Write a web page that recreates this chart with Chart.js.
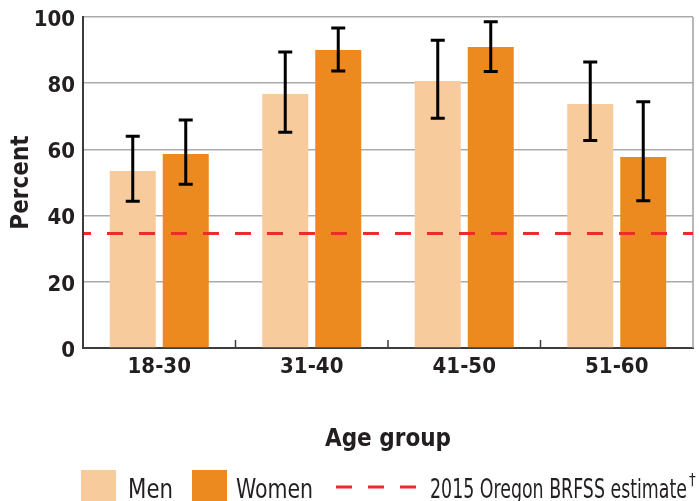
<!DOCTYPE html>
<html>
<head>
<meta charset="utf-8">
<script src="https://cdn.jsdelivr.net/npm/chart.js@4/dist/chart.umd.min.js"></script>
<style>
  html, body { margin: 0; padding: 0; background: #fff; }
  #wrap { width: 699px; height: 501px; }
</style>
</head>
<body>
<div id="wrap"><canvas id="canvas"></canvas></div>
<script>
const ageGroups = ['18-30', '31-40', '41-50', '51-60'];
const men = [53.5, 76.7, 80.7, 73.7];
const women = [58.6, 90.0, 90.9, 57.7];
const menLow = [44.3, 65.2, 69.4, 62.7];
const menHigh = [64.0, 89.4, 93.0, 86.4];
const womenLow = [49.5, 83.7, 83.5, 44.5];
const womenHigh = [68.9, 96.7, 98.6, 74.4];
const brfssEstimate = 34.6;
const legendLabels = ['Men', 'Women', '2015 Oregon BRFSS estimate'];

const FONT = "'Liberation Sans Narrow', 'DejaVu Sans Condensed', sans-serif";
const TEXT = '#231f20';
const MEN_COLOR = '#f8cb9d';
const WOMEN_COLOR = '#ec8a1f';
const RED = '#ee2b2b';

// error bars, dashed estimate line, inner ticks, right border, legend
const extras = {
  id: 'extras',
  afterDatasetsDraw(chart) {
    const { ctx, chartArea: a, scales: { x, y } } = chart;
    ctx.save();

    // right frame line
    ctx.strokeStyle = '#a0a0a0';
    ctx.lineWidth = 1.5;
    ctx.beginPath();
    ctx.moveTo(a.right, a.top);
    ctx.lineTo(a.right, a.bottom);
    ctx.stroke();

    // small ticks between groups
    ctx.strokeStyle = '#3c3c3c';
    ctx.lineWidth = 1.5;
    for (let i = 0; i < ageGroups.length - 1; i++) {
      const px = (x.getPixelForValue(i) + x.getPixelForValue(i + 1)) / 2;
      ctx.beginPath();
      ctx.moveTo(px, a.bottom);
      ctx.lineTo(px, a.bottom - 8);
      ctx.stroke();
    }

    // estimate line
    const ly = y.getPixelForValue(brfssEstimate);
    ctx.strokeStyle = RED;
    ctx.lineWidth = 3;
    ctx.setLineDash([16, 16]);
    ctx.lineDashOffset = 9;
    ctx.beginPath();
    ctx.moveTo(a.left + 1, ly);
    ctx.lineTo(a.right, ly);
    ctx.stroke();
    ctx.setLineDash([]);

    // error bars
    ctx.strokeStyle = '#000';
    ctx.lineWidth = 3;
    chart.data.datasets.forEach((ds, i) => {
      const meta = chart.getDatasetMeta(i);
      meta.data.forEach((bar, j) => {
        const yl = y.getPixelForValue(ds.errLow[j]);
        const yh = y.getPixelForValue(ds.errHigh[j]);
        ctx.beginPath();
        ctx.moveTo(bar.x, yl);
        ctx.lineTo(bar.x, yh);
        ctx.moveTo(bar.x - 7, yl);
        ctx.lineTo(bar.x + 7, yl);
        ctx.moveTo(bar.x - 7, yh);
        ctx.lineTo(bar.x + 7, yh);
        ctx.stroke();
      });
    });
    ctx.restore();
  },
  afterDraw(chart) {
    const { ctx } = chart;
    ctx.save();
    ctx.font = '27px ' + FONT;
    ctx.textBaseline = 'alphabetic';

    ctx.fillStyle = MEN_COLOR;
    ctx.fillRect(81, 470, 35, 31);
    ctx.fillStyle = TEXT;
    ctx.fillText(legendLabels[0], 128, 498, 45);

    ctx.fillStyle = WOMEN_COLOR;
    ctx.fillRect(192, 470, 35, 31);
    ctx.fillStyle = TEXT;
    ctx.fillText(legendLabels[1], 236, 498, 77);

    ctx.strokeStyle = RED;
    ctx.lineWidth = 3;
    [336, 368, 400].forEach(sx => {
      ctx.beginPath();
      ctx.moveTo(sx, 487);
      ctx.lineTo(sx + 16, 487);
      ctx.stroke();
    });

    ctx.fillStyle = TEXT;
    ctx.fillText(legendLabels[2], 430, 498, 257);
    ctx.font = '15px ' + FONT;
    ctx.fillText('\u2020', 689, 485);
    ctx.restore();
  }
};

new Chart(document.getElementById('canvas').getContext('2d'), {
  type: 'bar',
  data: {
    labels: ageGroups,
    datasets: [
      {
        label: 'Men',
        data: men,
        errLow: menLow,
        errHigh: menHigh,
        backgroundColor: MEN_COLOR,
        categoryPercentage: 0.695,
        barPercentage: 0.868,
      },
      {
        label: 'Women',
        data: women,
        errLow: womenLow,
        errHigh: womenHigh,
        backgroundColor: WOMEN_COLOR,
        categoryPercentage: 0.695,
        barPercentage: 0.868,
      },
    ],
  },
  options: {
    responsive: true,
    maintainAspectRatio: false,
    animation: false,
    layout: { padding: { top: 17, right: 6, bottom: 40, left: 0 } },
    plugins: {
      legend: { display: false },
      tooltip: { enabled: false },
    },
    scales: {
      x: {
        grid: { display: false, drawTicks: false },
        border: { display: true, color: '#3c3c3c', width: 2 },
        ticks: {
          color: TEXT,
          padding: 6,
          font: { family: FONT, size: 22, weight: 'bold' },
        },
        title: {
          display: true,
          text: 'Age group',
          color: TEXT,
          padding: { top: 4, bottom: 7 },
          font: { family: FONT, size: 24, weight: 'bold' },
        },
        afterFit(s) { s.height = 113; },
      },
      y: {
        min: 0,
        max: 100,
        grid: { color: '#ababab', lineWidth: 1.5, drawTicks: false },
        border: { color: '#3c3c3c', width: 2 },
        ticks: {
          stepSize: 20,
          color: TEXT,
          padding: 8,
          labelOffset: 3,
          font: { family: FONT, size: 22, weight: 'bold' },
        },
        title: {
          display: true,
          text: 'Percent',
          color: TEXT,
          padding: { top: 7, bottom: 0 },
          font: { family: FONT, size: 24, weight: 'bold' },
        },
        afterFit(s) {
          s.width = 83;
          s.paddingTop = 0;
          s.paddingBottom = 0;
        },
      },
    },
  },
  plugins: [extras],
});
</script>
</body>
</html>
